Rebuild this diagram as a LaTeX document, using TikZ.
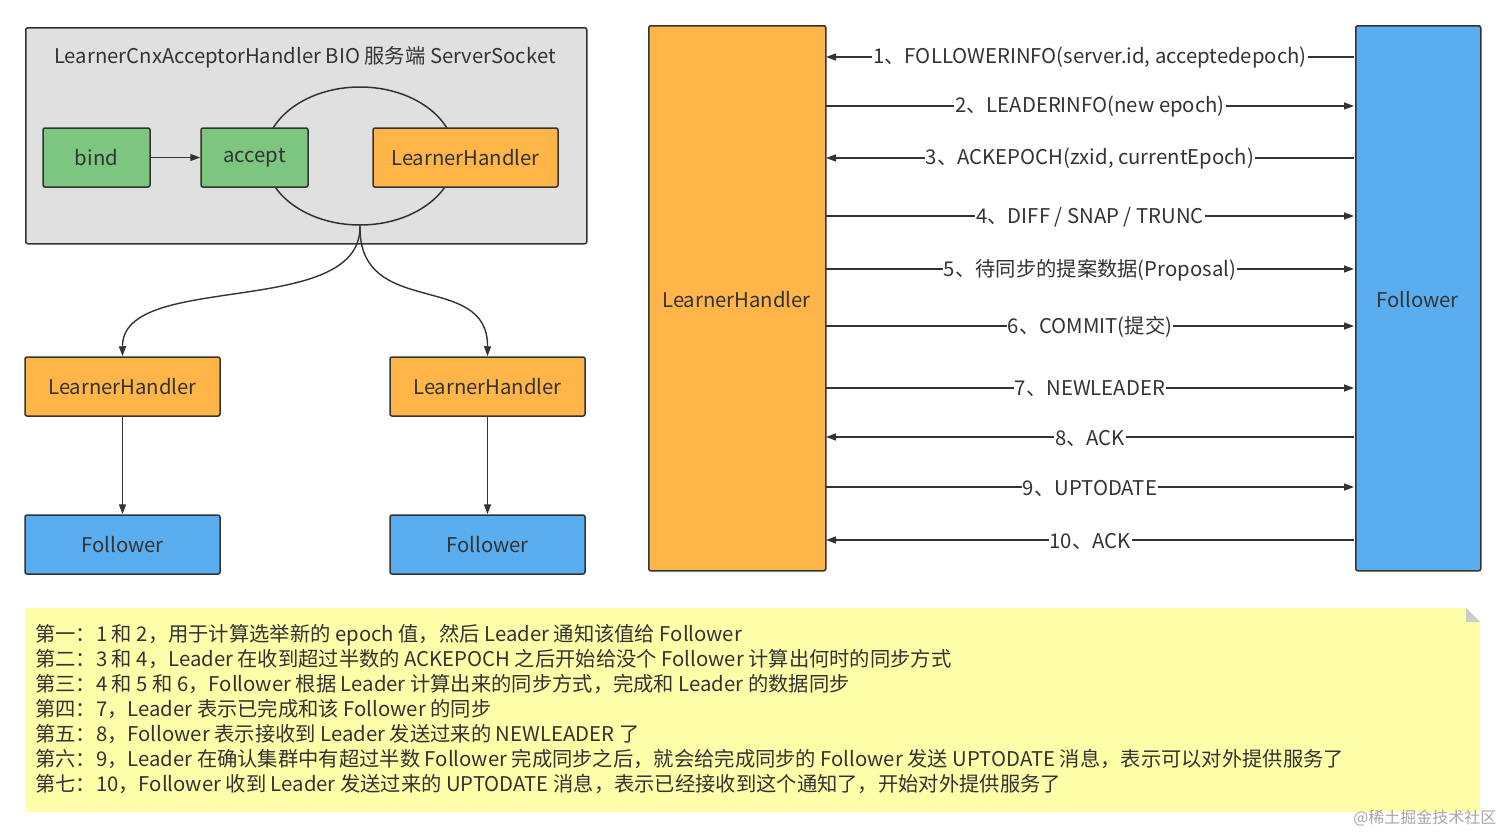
\documentclass[tikz,border=0pt]{standalone}
\usepackage{fontspec}
\setmainfont{Noto Sans CJK SC}
\usetikzlibrary{arrows.meta,shapes.geometric}
\definecolor{grn}{HTML}{7DC67F}
\definecolor{org}{HTML}{FFB547}
\definecolor{blu}{HTML}{5AAEF0}
\definecolor{gry}{HTML}{E0E0E0}
\definecolor{yel}{HTML}{FFFFAA}
\definecolor{txt}{HTML}{333333}
\begin{document}
\begin{tikzpicture}[x=1pt,y=-1pt,
  box/.style={draw=txt,line width=1.5pt,rounded corners=2pt,text=txt,font=\fontsize{20.3}{22}\selectfont},
  arr/.style={-{Triangle[length=10pt,width=7pt]},draw=txt,line width=1.4pt},
  lab/.style={fill=white,inner sep=1pt,text=txt,font=\fontsize{20.3}{22}\selectfont}]
\useasboundingbox (0,0) rectangle (1506,835);
% container
\node[box,fill=gry,minimum width=561pt,minimum height=216pt,anchor=north west] (cont) at (25,27) {};
\node[text=txt,font=\fontsize{20.3}{22}\selectfont] (ctitle) at (305,57) {LearnerCnxAcceptorHandler BIO 服务端 ServerSocket};
\node[draw=txt,line width=1.5pt,ellipse,minimum width=190pt,minimum height=138pt] (ell) at (360,156) {};
\node[box,fill=grn,minimum width=107pt,minimum height=59pt] (bind) at (96.5,157.5) {bind};
\node[box,fill=grn,minimum width=107pt,minimum height=59pt] (accept) at (254.5,157.5) {accept};
\node[box,fill=org,minimum width=185pt,minimum height=59pt] (lht) at (465.5,157.5) {LearnerHandler};
\draw[arr] (bind) -- (accept);
% lower left
\node[box,fill=org,minimum width=195pt,minimum height=59pt] (lh1) at (122.5,386.5) {LearnerHandler};
\node[box,fill=org,minimum width=195pt,minimum height=59pt] (lh2) at (487.5,386.5) {LearnerHandler};
\node[box,fill=blu,minimum width=195pt,minimum height=59pt] (f1) at (122.5,544.5) {Follower};
\node[box,fill=blu,minimum width=195pt,minimum height=59pt] (f2) at (487.5,544.5) {Follower};
\draw[arr] (ell.south) .. controls (362,320) and (122,270) .. (lh1.north);
\draw[arr] (ell.south) .. controls (358,320) and (488,270) .. (lh2.north);
\draw[arr] (lh1) -- (f1);
\draw[arr] (lh2) -- (f2);
% right
\node[box,fill=org,minimum width=177pt,minimum height=545pt,anchor=north west] (blh) at (648,25) {};
\node[text=txt,font=\fontsize{20.3}{22}\selectfont] (blht) at (736.5,300) {LearnerHandler};
\node[box,fill=blu,minimum width=125pt,minimum height=545pt,anchor=north west] (bf) at (1355,25) {};
\node[text=txt,font=\fontsize{20.3}{22}\selectfont] (bft) at (1417.5,300) {Follower};
\foreach \y/\d/\t in {57/l/{1、FOLLOWERINFO(server.id, acceptedepoch)},106/r/{2、LEADERINFO(new epoch)},158/l/{3、ACKEPOCH(zxid, currentEpoch)},216/r/{4、DIFF / SNAP / TRUNC},269/r/{5、待同步的提案数据(Proposal)},326/r/{6、COMMIT(提交)},388/r/{7、NEWLEADER},437/l/{8、ACK},487/r/{9、UPTODATE},540/l/{10、ACK}}{
  \coordinate (a\y) at (826,\y);
  \coordinate (b\y) at (1354,\y);
  \if r\d \draw[arr] (a\y) -- (b\y); \else \draw[arr] (b\y) -- (a\y); \fi
  \node[lab] (t\y) at (1090,\y+1) {\t};
}
% note
\fill[yel] (25,608) -- (1466,608) -- (1480,622) -- (1480,812) -- (25,812) -- cycle;
\fill[gray!40] (1466,608) -- (1480,622) -- (1466,622) -- cycle;
\node[anchor=north west,align=left,text=txt,font=\fontsize{20.3}{25}\selectfont,inner sep=0pt] (note) at (35,624) {第一：1 和 2，用于计算选举新的 epoch 值，然后 Leader 通知该值给 Follower\\
第二：3 和 4，Leader 在收到超过半数的 ACKEPOCH 之后开始给没个 Follower 计算出何时的同步方式\\
第三：4 和 5 和 6，Follower 根据 Leader 计算出来的同步方式，完成和 Leader 的数据同步\\
第四：7，Leader 表示已完成和该 Follower 的同步\\
第五：8，Follower 表示接收到 Leader 发送过来的 NEWLEADER 了\\
第六：9，Leader 在确认集群中有超过半数 Follower 完成同步之后，就会给完成同步的 Follower 发送 UPTODATE 消息，表示可以对外提供服务了\\
第七：10，Follower 收到 Leader 发送过来的 UPTODATE 消息，表示已经接收到这个通知了，开始对外提供服务了};
\node[anchor=east,text=gray!70,font=\fontsize{16}{18}\selectfont] (wm) at (1500,818) {@稀土掘金技术社区};
\end{tikzpicture}
\end{document}
